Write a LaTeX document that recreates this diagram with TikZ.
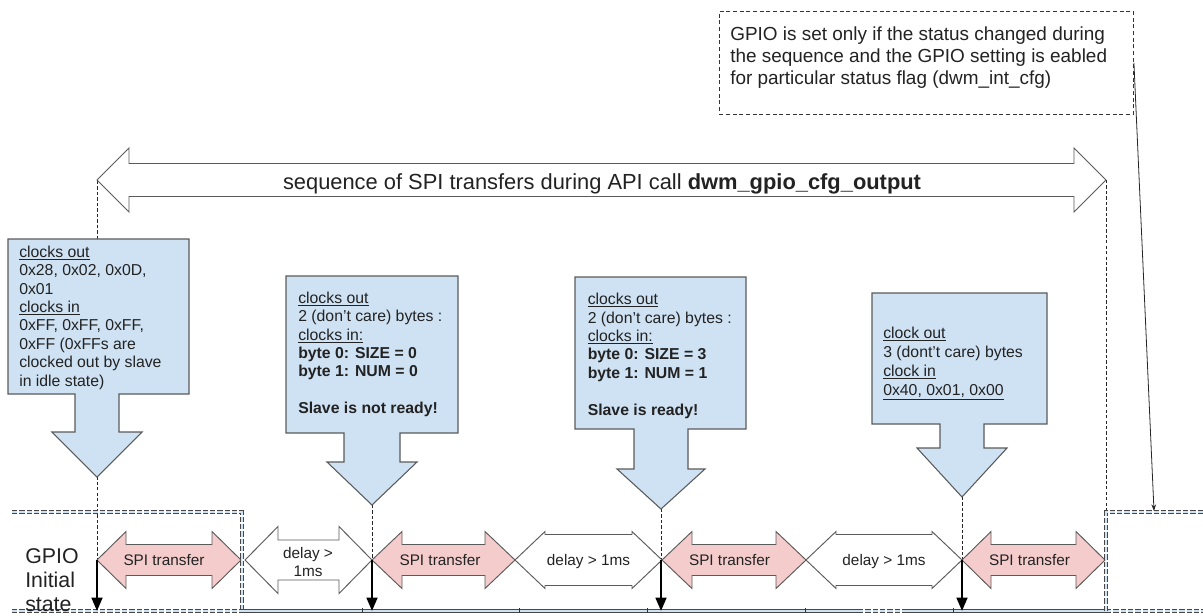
\documentclass[tikz,border=0pt]{standalone}
\usepackage{fontspec}
\setmainfont{Liberation Sans}
\usetikzlibrary{arrows.meta}
\definecolor{callblue}{HTML}{CFE2F3}
\definecolor{callpink}{HTML}{F4CCCC}
\definecolor{edgegray}{HTML}{5A5A5A}
\definecolor{txt}{HTML}{222222}
% double arrow: style, xL, xR, yc, head length, head half height, shaft half height
\newcommand\dblarr[7]{%
\draw[#1] (#2,#4) -- ({#2+#5},{#4-#6}) -- ({#2+#5},{#4-#7}) -- ({#3-#5},{#4-#7}) -- ({#3-#5},{#4-#6}) -- (#3,#4)
 -- ({#3-#5},{#4+#6}) -- ({#3-#5},{#4+#7}) -- ({#2+#5},{#4+#7}) -- ({#2+#5},{#4+#6}) -- cycle;}
% callout: x1, x2, ytop, ybot, cx, stem half, stem bottom, head half, tip y
\newcommand\callout[9]{%
\draw[callbox] (#1,#3) -- (#2,#3) -- (#2,#4) -- ({#5+#6},#4) -- ({#5+#6},#7) -- ({#5+#8},#7) -- (#5,#9)
 -- ({#5-#8},#7) -- ({#5-#6},#7) -- ({#5-#6},#4) -- (#1,#4) -- cycle;}
\begin{document}
\begin{tikzpicture}[x=0.75pt,y=-0.75pt,
  callbox/.style={draw=edgegray, fill=callblue, line width=0.8pt, line join=miter},
  pinkarr/.style={draw=edgegray, fill=callpink, line width=0.7pt},
  whitearr/.style={draw=edgegray, fill=white, line width=0.7pt},
  guide/.style={draw=black!85, line width=0.65pt, dash pattern=on 2.5pt off 1.6pt},
  wave/.style={draw=black!72, double=callblue, double distance=0.9pt, line width=0.7pt},
  wavedash/.style={wave, dash pattern=on 4pt off 1.5pt},
  tick/.style={draw=black!80, line width=0.6pt},
  ctext/.style={font=\fontsize{11.85}{13.8}\selectfont, text=txt, align=left, anchor=north west, inner sep=0pt},
  ttext/.style={font=\fontsize{11.5}{14}\selectfont, text=txt, align=center, inner sep=0pt},
  notebox/.style={draw=black!80, line width=0.7pt, dash pattern=on 3pt off 2pt, inner sep=0pt},
  notetext/.style={font=\fontsize{14.2}{16.5}\selectfont, text=txt, align=left, anchor=north west, inner sep=0pt},
  seqtext/.style={font=\fontsize{16.4}{19}\selectfont, text=txt, inner sep=0pt, anchor=base},
  gpiotext/.style={font=\fontsize{16}{18.2}\selectfont, text=txt, align=left, anchor=north west, inner sep=0pt},
  gpioarr/.style={draw=black, line width=1.9pt, -{Triangle[length=10pt,width=8pt]}},
  notearr/.style={draw=black!85, line width=0.6pt, -{Stealth[length=5pt,width=3.5pt]}}
]
\useasboundingbox (0,0) rectangle (1203,615);

% coordinates
\coordinate (g1a) at (97,181);  \coordinate (g1b) at (97,611);
\coordinate (g2a) at (372,505); \coordinate (g2b) at (372,560);
\coordinate (g3a) at (661,509); \coordinate (g3b) at (661,560);
\coordinate (g4a) at (962,497); \coordinate (g4b) at (962,560);
\coordinate (g5a) at (1106,180); \coordinate (g5b) at (1106,512);
\coordinate (gpiohi) at (1154,511);

% dashed guides
\draw[guide] (g1a) -- (g1b);
\draw[guide] (g2a) -- (g2b);
\draw[guide] (g3a) -- (g3b);
\draw[guide] (g4a) -- (g4b);
\draw[guide] (g5a) -- (g5b);

% big sequence arrow
\dblarr{whitearr}{97}{1106}{180}{32}{32}{16.5}
\node[seqtext] (seq) at (602,189) {sequence of SPI transfers during API call \textbf{dwm\_gpio\_cfg\_output}};

% note
\node[notebox, minimum width=310.5pt, minimum height=77.25pt, anchor=north west] (note) at (719,11) {};
\node[notetext] (notetxt) at (730,26.5) {GPIO is set only if the status changed during\\the sequence and the GPIO setting is eabled\\for particular status flag (dwm\_int\_cfg)};
\draw[notearr] (note.east) -- (gpiohi);

% callouts
\callout{8}{189}{239}{394}{97}{22}{432}{45}{477}
\callout{286}{458}{276}{433}{372}{28}{462}{45}{505}
\callout{575}{746}{277}{429}{661}{27}{469}{44}{509}
\callout{872}{1047}{293}{424}{962}{22}{448}{45}{497}

\node[ctext] (c1) at (19,245.5) {\underline{clocks out}\\0x28, 0x02, 0x0D,\\0x01\\\underline{clocks in}\\0xFF, 0xFF, 0xFF,\\0xFF (0xFFs are\\clocked out by slave\\in idle state)};
\node[ctext] (c2) at (298,291.5) {\underline{clocks out}\\2 (don’t care) bytes :\\\underline{clocks in:}\\\textbf{byte 0: SIZE = 0}\\\textbf{byte 1: NUM = 0}\\[13.8pt]\textbf{Slave is not ready!}};
\node[ctext] (c3) at (587.5,293) {\underline{clocks out}\\2 (don’t care) bytes :\\\underline{clocks in:}\\\textbf{byte 0: SIZE = 3}\\\textbf{byte 1: NUM = 1}\\[13.8pt]\textbf{Slave is ready!}};
\node[ctext, font=\fontsize{11.85}{14.25}\selectfont] (c4) at (883,326.5) {\underline{clock out}\\3 (dont’t care) bytes\\\underline{clock in}\\\underline{0x40, 0x01, 0x00}};

% timeline arrows
\dblarr{pinkarr}{97}{241}{560}{29}{28.5}{15.5}
\dblarr{whitearr}{245}{372}{560}{33}{33.5}{20}
\dblarr{pinkarr}{372}{515}{560}{30}{28.5}{15.5}
\dblarr{whitearr}{515}{662}{560}{30}{28.5}{25.5}
\dblarr{pinkarr}{662}{806}{560}{30}{28.5}{15.5}
\dblarr{whitearr}{806}{962}{560}{30}{28.5}{25.5}
\dblarr{pinkarr}{962}{1105}{560}{29}{28.5}{15.5}

\node[ttext, anchor=base] (s1) at (164,565) {SPI transfer};
\node[ttext] (d1) at (308,562) {delay >\\1ms};
\node[ttext, anchor=base] (s2) at (440,565) {SPI transfer};
\node[ttext, anchor=base] (d2) at (588.5,565) {delay > 1ms};
\node[ttext, anchor=base] (s3) at (729.5,565) {SPI transfer};
\node[ttext, anchor=base] (d3) at (884,565) {delay > 1ms};
\node[ttext, anchor=base] (s4) at (1029.5,565) {SPI transfer};

% GPIO waveform
\draw[wavedash] (12,512) -- (242,512) -- (242,611);
\draw[wavedash] (12,611) -- (242,611);
\draw[wave] (242,611) -- (858,611);
\draw[wavedash] (858,611) -- (905,611);
\draw[wave] (905,611) -- (1106,611);
\draw[wavedash] (1106,611) -- (1203,611);
\draw[wavedash] (1106,611) -- (1106,512) -- (1203,512);
\foreach \tx in {362,519,647,805,953} \draw[tick] (\tx,608) -- (\tx,613);

\node[gpiotext] (gpio) at (25,548) {GPIO\\Initial\\state};

% GPIO set arrows
\coordinate (b1) at (97,560);
\coordinate (b2b) at (372,611);
\coordinate (b3b) at (661,611);
\coordinate (b4b) at (962,611);
\draw[gpioarr] (b1) -- (g1b);
\draw[gpioarr] (g2b) -- (b2b);
\draw[gpioarr] (g3b) -- (b3b);
\draw[gpioarr] (g4b) -- (b4b);
\end{tikzpicture}
\end{document}
